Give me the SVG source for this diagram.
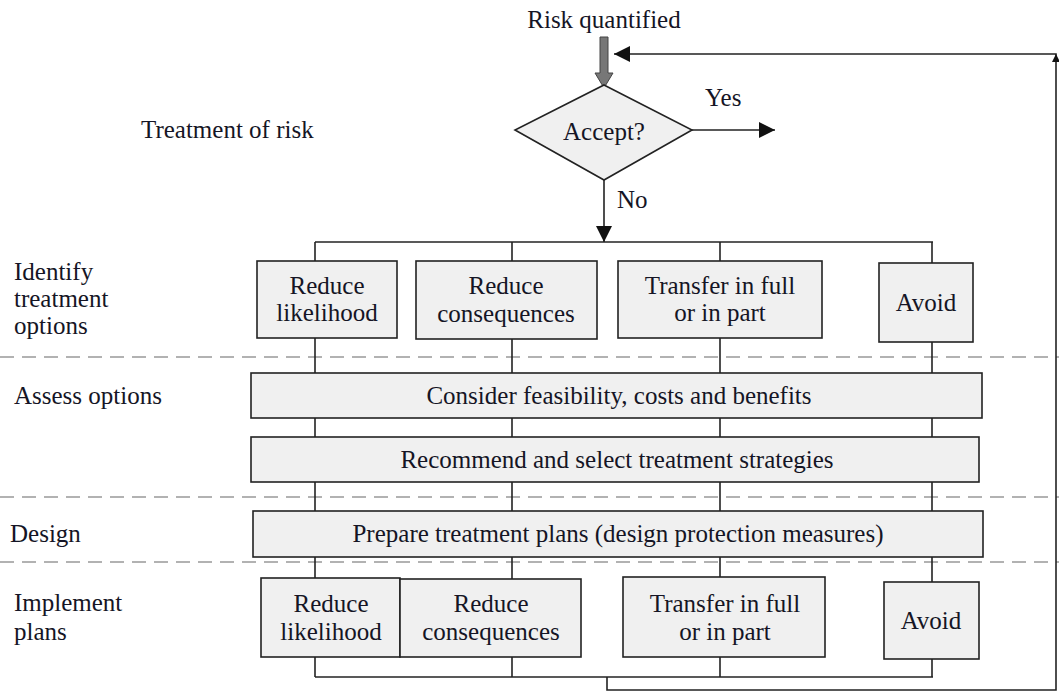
<svg xmlns="http://www.w3.org/2000/svg" width="1059" height="693" viewBox="0 0 1059 693">
  <style>
    text { font-family: "Liberation Serif", "Times New Roman", serif; font-size: 25px; fill: #151525; }
    .c { text-anchor: middle; }
    .box { fill: #f0f0f0; stroke: #222; stroke-width: 1.6; }
    .ln { fill: none; stroke: #222; stroke-width: 1.6; }
    .dash { fill: none; stroke: #999; stroke-width: 1.6; stroke-dasharray: 14 8; }
  </style>
  <defs>
    <marker id="ahBig" viewBox="0 0 10 10" refX="10" refY="5" markerWidth="16" markerHeight="16" markerUnits="userSpaceOnUse" orient="auto">
      <path d="M0,0 L10,5 L0,10 z" fill="#111"/>
    </marker>
  </defs>
  <rect width="1059" height="693" fill="#fff"/>

  <!-- stage separators -->
  <g id="separators">
    <line class="dash" x1="0" y1="357" x2="1059" y2="357"/>
    <line class="dash" x1="0" y1="497" x2="1059" y2="497"/>
    <line class="dash" x1="0" y1="562" x2="1059" y2="562"/>
  </g>

  <!-- stage labels -->
  <g id="labels">
    <text x="141" y="138">Treatment of risk</text>
    <text x="14" y="280">Identify</text>
    <text x="14" y="307">treatment</text>
    <text x="14" y="334">options</text>
    <text x="14" y="404">Assess options</text>
    <text x="10" y="542">Design</text>
    <text x="14" y="611">Implement</text>
    <text x="14" y="640">plans</text>
  </g>

  <g id="connectors">
    <!-- input arrow -->
    <path d="M600,37 H608 V73 H613 L604,88 L595,73 H600 Z" fill="#777" stroke="#444" stroke-width="1"/>
    <!-- yes -->
    <line class="ln" x1="692" y1="130" x2="775" y2="130" marker-end="url(#ahBig)"/>
    <!-- no -->
    <line class="ln" x1="604" y1="180" x2="604" y2="242" marker-end="url(#ahBig)"/>
    <!-- top bus -->
    <line class="ln" x1="315" y1="242" x2="933" y2="242"/>
    <!-- option columns -->
    <line class="ln" x1="315" y1="242" x2="315" y2="677"/>
    <line class="ln" x1="512" y1="242" x2="512" y2="677"/>
    <line class="ln" x1="720" y1="242" x2="720" y2="677"/>
    <line class="ln" x1="932" y1="242" x2="932" y2="677"/>
    <!-- bottom bus -->
    <line class="ln" x1="315" y1="677" x2="933" y2="677"/>
    <!-- feedback loop -->
    <path class="ln" d="M607,677 V690 H1056 V54 H614" marker-end="url(#ahBig)"/>
    <path d="M1052,62 L1056,54 L1060,62 Z" fill="#111"/>
  </g>

  <g id="risk-quantified">
    <text class="c" x="604" y="28">Risk quantified</text>
  </g>

  <g id="accept">
    <path class="box" d="M604,85 L692,130 L604,180 L515,130 Z"/>
    <text class="c" x="604" y="140">Accept?</text>
  </g>
  <g id="yes-label"><text x="705" y="106">Yes</text></g>
  <g id="no-label"><text x="617" y="208">No</text></g>

  <!-- identify options -->
  <g id="opt-likelihood">
    <rect class="box" x="257" y="261" width="140" height="77"/>
    <text class="c" x="327" y="294">Reduce</text>
    <text class="c" x="327" y="321">likelihood</text>
  </g>
  <g id="opt-consequences">
    <rect class="box" x="416" y="261" width="181" height="78"/>
    <text class="c" x="506" y="294">Reduce</text>
    <text class="c" x="506" y="322">consequences</text>
  </g>
  <g id="opt-transfer">
    <rect class="box" x="618" y="261" width="204" height="77"/>
    <text class="c" x="720" y="294">Transfer in full</text>
    <text class="c" x="720" y="321">or in part</text>
  </g>
  <g id="opt-avoid">
    <rect class="box" x="879" y="263" width="94" height="79"/>
    <text class="c" x="926" y="311">Avoid</text>
  </g>

  <!-- assess / design -->
  <g id="consider">
    <rect class="box" x="251" y="373" width="731" height="45"/>
    <text class="c" x="619" y="404">Consider feasibility, costs and benefits</text>
  </g>
  <g id="recommend">
    <rect class="box" x="251" y="437" width="728" height="45"/>
    <text class="c" x="617" y="468">Recommend and select treatment strategies</text>
  </g>
  <g id="prepare">
    <rect class="box" x="253" y="511" width="730" height="46"/>
    <text class="c" x="618" y="542">Prepare treatment plans (design protection measures)</text>
  </g>

  <!-- implement -->
  <g id="impl-likelihood">
    <rect class="box" x="261" y="578" width="139" height="79"/>
    <text class="c" x="331" y="612">Reduce</text>
    <text class="c" x="331" y="640">likelihood</text>
  </g>
  <g id="impl-consequences">
    <rect class="box" x="400" y="579" width="181" height="78"/>
    <text class="c" x="491" y="612">Reduce</text>
    <text class="c" x="491" y="640">consequences</text>
  </g>
  <g id="impl-transfer">
    <rect class="box" x="623" y="577" width="202" height="80"/>
    <text class="c" x="725" y="612">Transfer in full</text>
    <text class="c" x="725" y="640">or in part</text>
  </g>
  <g id="impl-avoid">
    <rect class="box" x="884" y="582" width="95" height="77"/>
    <text class="c" x="931" y="629">Avoid</text>
  </g>
</svg>
